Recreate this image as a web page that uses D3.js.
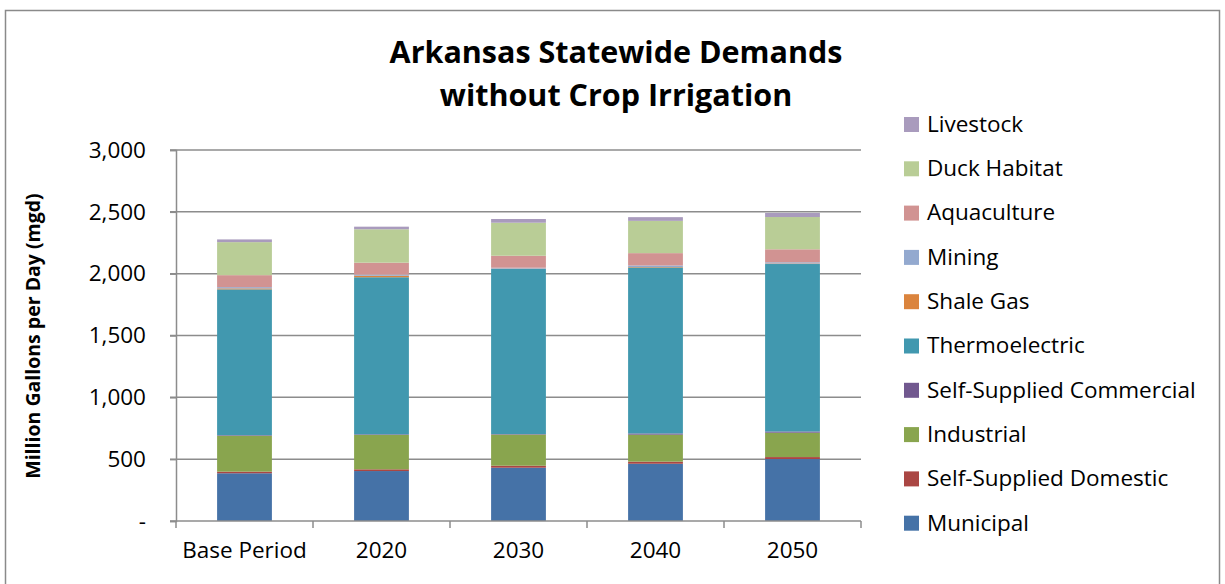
<!DOCTYPE html>
<html>
<head>
<meta charset="utf-8">
<script src="https://cdn.jsdelivr.net/npm/d3@7"></script>
<style>
  html, body { margin: 0; padding: 0; background: #fff; }
  svg { display: block; font-family: "Open Sans", "DejaVu Sans", sans-serif; }
</style>
</head>
<body>
<svg id="chart" width="1225" height="584"></svg>
<script>
// Demand categories along the x axis
const categories = ["Base Period", "2020", "2030", "2040", "2050"];

// Water demand per sector, million gallons per day (stacked bottom to top)
const municipal      = [386, 404, 431, 463, 501];
const selfDomestic   = [13, 14, 16, 17, 16];
const industrial     = [290, 278, 252, 218, 197];
const selfCommercial = [5, 5, 4, 10, 10];
const thermoelectric = [1179, 1270, 1335, 1342, 1354];
const shaleGas       = [8, 12, 3, 4, 4];
const mining         = [10, 9, 7, 12, 10];
const aquaculture    = [97, 97, 97, 100, 105];
const duckHabitat    = [267, 270, 267, 261, 261];
const livestock      = [22, 21, 30, 30, 33];

const seriesNames = ["Municipal", "Self-Supplied Domestic", "Industrial", "Self-Supplied Commercial",
  "Thermoelectric", "Shale Gas", "Mining", "Aquaculture", "Duck Habitat", "Livestock"];
const seriesValues = [municipal, selfDomestic, industrial, selfCommercial, thermoelectric,
  shaleGas, mining, aquaculture, duckHabitat, livestock];
const seriesColors = ["#4572A7", "#AA4643", "#89A54E", "#71588F", "#4198AF",
  "#DB843D", "#93A9CF", "#D19392", "#B9CD96", "#A99BBD"];

const yTicks = [0, 500, 1000, 1500, 2000, 2500, 3000];

const svg = d3.select("#chart");
const labelSize = 22.5;

// outer chart frame
svg.append("rect")
  .attr("x", 5.5).attr("y", 10.5).attr("width", 1214).attr("height", 600)
  .attr("fill", "none").attr("stroke", "#8a8a8a").attr("stroke-width", 1.5);

// rows for d3.stack
const rows = categories.map((c, i) => {
  const r = { category: c };
  seriesNames.forEach((n, k) => { r[n] = seriesValues[k][i]; });
  return r;
});
const stacked = d3.stack().keys(seriesNames)(rows);

const x = d3.scaleBand().domain(categories).range([176, 861])
  .paddingInner(0.6).paddingOuter(0.3);
const y = d3.scaleLinear().domain([0, 3000]).range([521, 150]);
const color = d3.scaleOrdinal().domain(seriesNames).range(seriesColors);

// horizontal gridlines
svg.append("g").selectAll("line").data(yTicks.filter(d => d > 0)).join("line")
  .attr("x1", 170).attr("x2", 861)
  .attr("y1", d => y(d)).attr("y2", d => y(d))
  .attr("stroke", "#8c8c8c").attr("stroke-width", 1.5);

// y axis
const yAxis = svg.append("g").attr("transform", "translate(176,0)")
  .call(d3.axisLeft(y).tickValues(yTicks).tickSize(6).tickPadding(24)
    .tickFormat(d => d === 0 ? "-" : d3.format(",")(d)));
yAxis.select(".domain").attr("stroke", "#8c8c8c").attr("stroke-width", 1.5);
yAxis.selectAll(".tick line").attr("stroke", "#8c8c8c").attr("stroke-width", 1.5);
yAxis.selectAll(".tick text").attr("font-size", labelSize).attr("fill", "#000")
  .attr("font-family", "'Open Sans', sans-serif");

// stacked bars
svg.append("g").selectAll("g").data(stacked).join("g")
  .attr("fill", d => color(d.key))
  .selectAll("rect").data(d => d).join("rect")
  .attr("x", d => x(d.data.category))
  .attr("width", x.bandwidth())
  .attr("y", d => y(d[1]))
  .attr("height", d => y(d[0]) - y(d[1]));

// x axis
const xAxis = svg.append("g").attr("transform", "translate(0,521)")
  .call(d3.axisBottom(x).tickSize(0).tickPadding(21));
xAxis.select(".domain").attr("stroke", "#8c8c8c").attr("stroke-width", 1.5)
  .attr("d", "M170,0H861");
xAxis.selectAll(".tick text").attr("font-size", labelSize).attr("fill", "#000")
  .attr("font-family", "'Open Sans', sans-serif");
// tick marks on category boundaries
const boundaries = d3.range(categories.length + 1).map(i => x.range()[0] + i * x.step());
svg.append("g").selectAll("line").data(boundaries).join("line")
  .attr("x1", d => d).attr("x2", d => d)
  .attr("y1", 521).attr("y2", 528)
  .attr("stroke", "#8c8c8c").attr("stroke-width", 1.5);

// y-axis title
svg.append("text")
  .attr("transform", "translate(40,336) rotate(-90)")
  .attr("text-anchor", "middle")
  .attr("font-size", 19.5).attr("font-weight", "bold")
  .text("Million Gallons per Day (mgd)");

// chart title
const title = svg.append("text").attr("text-anchor", "middle")
  .attr("font-size", 30.5).attr("font-weight", "bold");
title.append("tspan").attr("x", 616).attr("y", 63).text("Arkansas Statewide Demands");
title.append("tspan").attr("x", 616).attr("y", 106).text("without Crop Irrigation");

// legend, top entry is the topmost stack layer
const legendOrder = seriesNames.slice().reverse();
const legend = svg.append("g").selectAll("g").data(legendOrder).join("g")
  .attr("transform", (d, i) => `translate(904,${124 + i * 44.3})`);
legend.append("rect").attr("x", 0).attr("y", -7).attr("width", 15).attr("height", 15)
  .attr("fill", d => color(d));
legend.append("text").attr("x", 23).attr("y", 0).attr("dy", "0.35em")
  .attr("font-size", labelSize).text(d => d);
</script>
</body>
</html>
